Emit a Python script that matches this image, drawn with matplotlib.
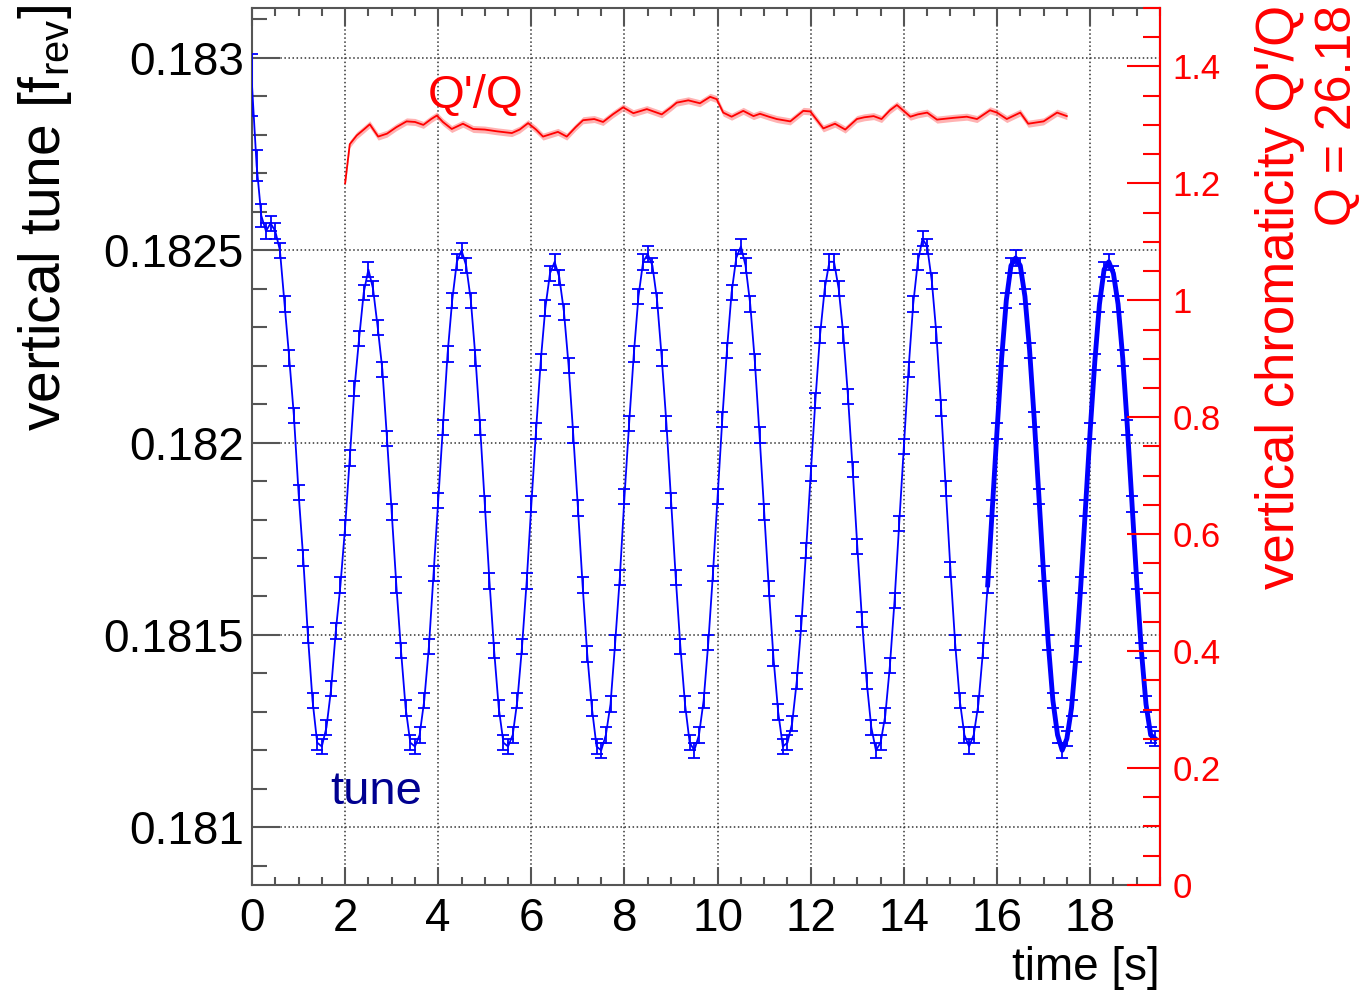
import matplotlib
matplotlib.use('Agg')  # no UI backend

import numpy as np
import matplotlib.pyplot as plt
from matplotlib.ticker import MultipleLocator, FuncFormatter

plt.rcParams['font.family'] = ['Liberation Sans', 'DejaVu Sans']
plt.rcParams['mathtext.fontset'] = 'custom'
plt.rcParams['mathtext.rm'] = 'Liberation Sans'

# vertical tune, one reading every 0.1 s
tune_dt = 0.1
tune = [
    0.18293, 0.18272, 0.18259, 0.18255, 0.18257, 0.18255, 0.18250, 0.18236, 0.18222, 0.18207,
    0.18187, 0.18170, 0.18150, 0.18133, 0.18122, 0.18121, 0.18126, 0.18136, 0.18151, 0.18163,
    0.18178, 0.18196, 0.18214, 0.18227, 0.18239, 0.18245, 0.18240, 0.18230, 0.18219, 0.18201,
    0.18182, 0.18163, 0.18146, 0.18131, 0.18122, 0.18121, 0.18124, 0.18133, 0.18147, 0.18166,
    0.18185, 0.18204, 0.18223, 0.18237, 0.18247, 0.18250, 0.18246, 0.18237, 0.18222, 0.18204,
    0.18184, 0.18164, 0.18146, 0.18131, 0.18122, 0.18121, 0.18124, 0.18133, 0.18147, 0.18164,
    0.18184, 0.18203, 0.18221, 0.18235, 0.18244, 0.18247, 0.18243, 0.18234, 0.18220, 0.18202,
    0.18183, 0.18163, 0.18145, 0.18131, 0.18121, 0.18120, 0.18124, 0.18132, 0.18148, 0.18165,
    0.18186, 0.18205, 0.18223, 0.18238, 0.18247, 0.18249, 0.18246, 0.18237, 0.18222, 0.18205,
    0.18185, 0.18165, 0.18147, 0.18132, 0.18122, 0.18120, 0.18124, 0.18133, 0.18148, 0.18166,
    0.18186, 0.18206, 0.18224, 0.18239, 0.18248, 0.18251, 0.18246, 0.18236, 0.18221, 0.18202,
    0.18182, 0.18162, 0.18144, 0.18130, 0.18121, 0.18122, 0.18127, 0.18138, 0.18153, 0.18172,
    0.18192, 0.18211, 0.18228, 0.18240, 0.18247, 0.18247, 0.18240, 0.18228, 0.18212, 0.18193,
    0.18173, 0.18154, 0.18138, 0.18126, 0.18120, 0.18122, 0.18129, 0.18142, 0.18159, 0.18179,
    0.18199, 0.18219, 0.18236, 0.18247, 0.18253, 0.18251, 0.18242, 0.18228, 0.18209, 0.18188,
    0.18167, 0.18148, 0.18133, 0.18124, 0.18121, 0.18124, 0.18132, 0.18146, 0.18163, 0.18183,
    0.18203, 0.18222, 0.18237, 0.18246, 0.18248, 0.18246, 0.18238, 0.18224, 0.18206, 0.18186,
    0.18166, 0.18148, 0.18133, 0.18124, 0.18120, 0.18123, 0.18131, 0.18145, 0.18163, 0.18183,
    0.18203, 0.18221, 0.18236, 0.18245, 0.18247, 0.18244, 0.18236, 0.18222, 0.18204, 0.18184,
    0.18164, 0.18146, 0.18132, 0.18124, 0.18123,
]
tune_err_start = [8e-5, 4e-5, 3e-5]
tune_err = 2e-5
dense_from = 15.8   # later part of the run is sampled much more densely

# chromaticity Q'/Q
chrom_t = [2.0, 2.1, 2.25, 2.4, 2.53, 2.71, 2.9, 3.1, 3.32, 3.5, 3.68, 3.85, 3.97, 4.1,
           4.29, 4.53, 4.75, 5.0, 5.26, 5.58, 5.75, 5.93, 6.1, 6.25, 6.57, 6.76, 6.95,
           7.11, 7.35, 7.54, 7.75, 7.97, 8.19, 8.48, 8.8, 9.0, 9.12, 9.37, 9.62, 9.84,
           9.98, 10.12, 10.3, 10.55, 10.77, 10.91, 11.1, 11.27, 11.56, 11.84, 11.99,
           12.27, 12.52, 12.74, 12.99, 13.15, 13.35, 13.52, 13.7, 13.85, 14.14, 14.3,
           14.5, 14.71, 15.06, 15.35, 15.57, 15.85, 16.0, 16.21, 16.5, 16.67, 17.0,
           17.29, 17.5]
chrom = [1.200, 1.267, 1.282, 1.292, 1.301, 1.280, 1.285, 1.296, 1.306, 1.305, 1.300,
         1.310, 1.316, 1.305, 1.293, 1.302, 1.293, 1.292, 1.289, 1.286, 1.292, 1.303,
         1.292, 1.280, 1.288, 1.280, 1.296, 1.308, 1.310, 1.305, 1.318, 1.330, 1.320,
         1.327, 1.318, 1.330, 1.338, 1.342, 1.337, 1.348, 1.344, 1.321, 1.314, 1.324,
         1.315, 1.319, 1.314, 1.310, 1.306, 1.324, 1.323, 1.294, 1.302, 1.292, 1.310,
         1.313, 1.315, 1.310, 1.325, 1.334, 1.314, 1.318, 1.321, 1.309, 1.312, 1.314,
         1.310, 1.325, 1.321, 1.310, 1.321, 1.302, 1.306, 1.321, 1.315]
chrom_err = 0.006

t = np.round(np.arange(len(tune)) * tune_dt, 1)
tune = np.array(tune)
yerr = np.full(len(tune), tune_err)
yerr[:len(tune_err_start)] = tune_err_start

fig = plt.figure(figsize=(13.65, 9.94), dpi=100)
ax = fig.add_axes([0.1846, 0.1097, 0.8498 - 0.1846, 0.992 - 0.1097])

ax.errorbar(t, tune, yerr=yerr, color='blue', lw=1.3, elinewidth=1.3,
            capsize=4, capthick=1.3, zorder=3)
dense = t >= dense_from
ax.plot(t[dense], tune[dense], color='blue', lw=3.5, zorder=3)

ax.set_xlim(0, 19.5)
ax.set_ylim(0.18085, 0.18313)
ax.xaxis.set_major_locator(MultipleLocator(2))
ax.xaxis.set_minor_locator(MultipleLocator(0.5))
ax.yaxis.set_major_locator(MultipleLocator(0.0005))
ax.yaxis.set_minor_locator(MultipleLocator(0.0001))
ax.yaxis.set_major_formatter(FuncFormatter(lambda v, _: f'{v:g}'))
ax.grid(True, which='major', linestyle=':', color='#333333', lw=1.1)

ax.tick_params(axis='x', which='both', direction='in', top=True, labelsize=33,
               pad=9, width=1.5, color='#555555')
ax.tick_params(axis='x', which='major', length=13)
ax.tick_params(axis='x', which='minor', length=6)
ax.tick_params(axis='y', which='both', direction='in', right=False, labelsize=33,
               pad=6, width=1.5, color='#555555')
ax.tick_params(axis='y', which='major', length=20)
ax.tick_params(axis='y', which='minor', length=11)
for s in ax.spines.values():
    s.set_color('#555555')
    s.set_linewidth(1.5)

ax.text(2.66, 0.181091, 'tune', color='#000090', fontsize=34, ha='center', va='center')

# right axis: chromaticity
ax2 = ax.twinx()
ax2.set_ylim(0, 1.5)
lo = [c - chrom_err for c in chrom]
hi = [c + chrom_err for c in chrom]
ax2.fill_between(chrom_t, lo, hi, color='#ff8080', alpha=0.6, lw=0)
ax2.plot(chrom_t, chrom, color='red', lw=1.3)
ax2.yaxis.set_major_locator(MultipleLocator(0.2))
ax2.yaxis.set_minor_locator(MultipleLocator(0.05))
ax2.yaxis.set_major_formatter(FuncFormatter(lambda v, _: f'{v:g}'))
ax2.tick_params(axis='y', which='both', direction='in', colors='red', labelsize=25,
                pad=9, width=1.5)
ax2.tick_params(axis='y', which='major', length=24)
ax2.tick_params(axis='y', which='minor', length=12)
ax2.spines['right'].set_color('red')
ax2.spines['right'].set_linewidth(1.5)
for k in ['left', 'top', 'bottom']:
    ax2.spines[k].set_visible(False)

ax2.text(4.81, 1.35, "Q'/Q", color='red', fontsize=34, ha='center', va='center')

# axis titles
fig.text(0.033, 0.995, r'vertical tune [f$_{\mathregular{rev}}$]', rotation=90,
         fontsize=41, ha='center', va='top')
fig.text(0.938, 0.995, "vertical chromaticity Q'/Q", rotation=90, color='red',
         fontsize=38, ha='center', va='top')
fig.text(0.980, 0.995, 'Q = 26.18', rotation=90, color='red',
         fontsize=36, ha='center', va='top')
fig.text(0.8498, 0.026, 'time [s]', fontsize=33, ha='right', va='center')

fig.savefig('out.png', dpi=100)
